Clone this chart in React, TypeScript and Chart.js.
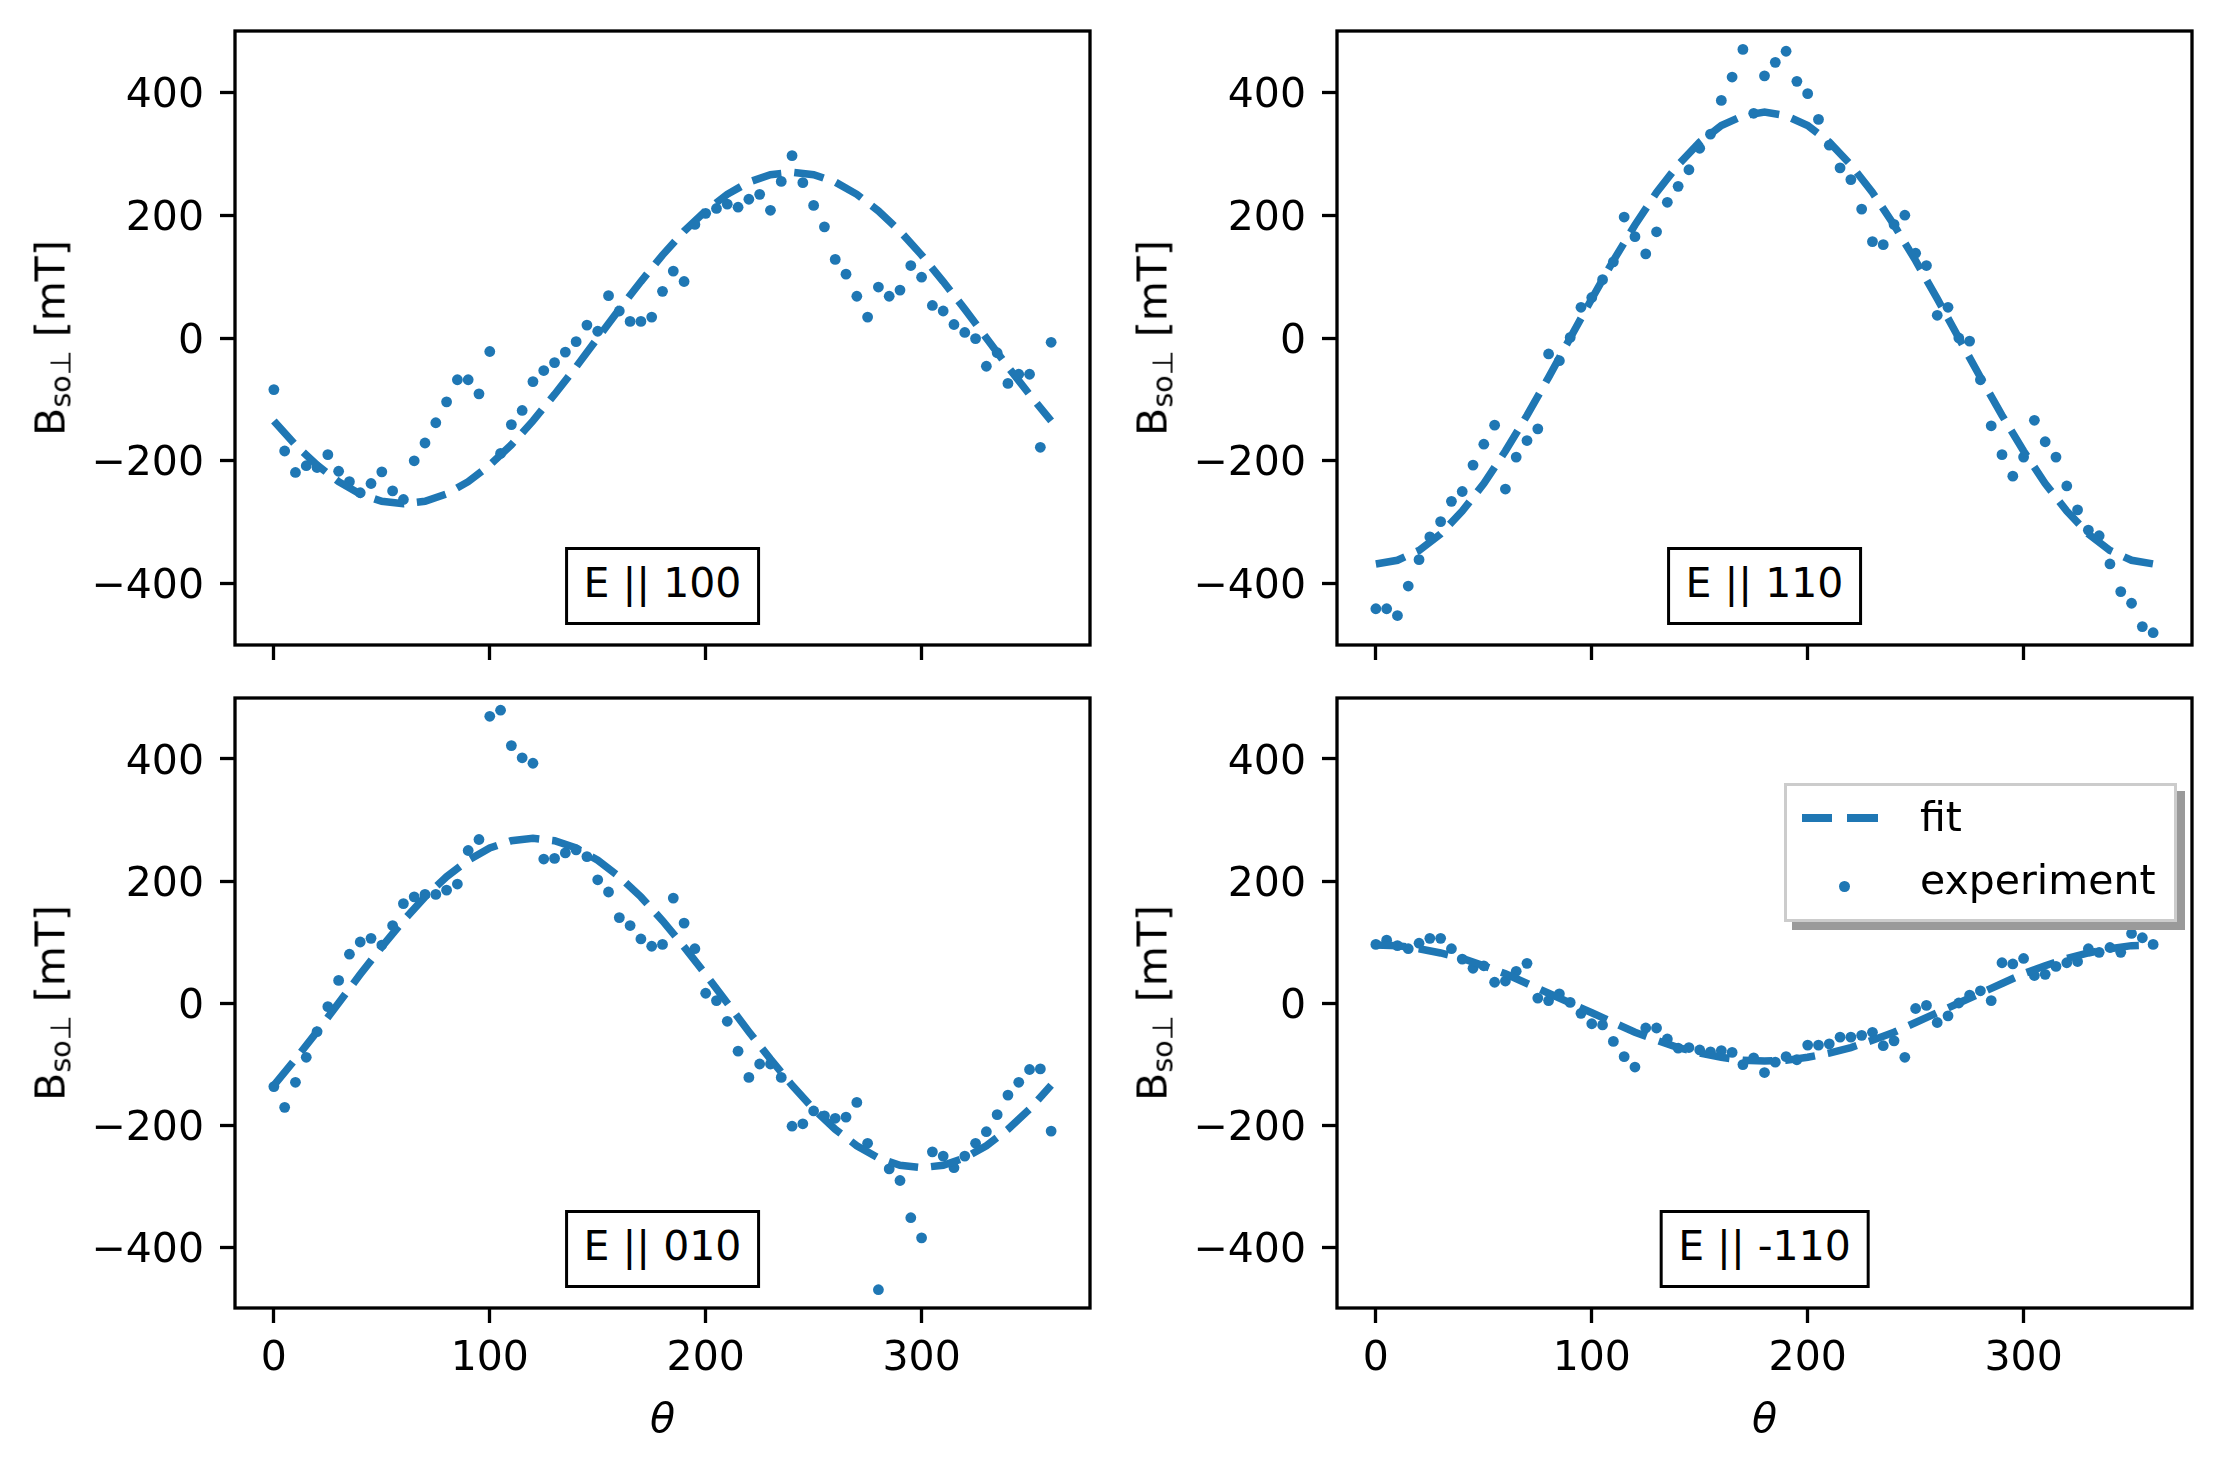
import React, { useEffect, useRef } from 'react';
import { Chart, registerables } from 'chart.js';

Chart.register(...registerables);

// ---------- data ----------
const theta = [
  0, 5, 10, 15, 20, 25, 30, 35, 40, 45, 50, 55, 60, 65, 70, 75, 80, 85, 90, 95,
  100, 105, 110, 115, 120, 125, 130, 135, 140, 145, 150, 155, 160, 165, 170, 175,
  180, 185, 190, 195, 200, 205, 210, 215, 220, 225, 230, 235, 240, 245, 250, 255,
  260, 265, 270, 275, 280, 285, 290, 295, 300, 305, 310, 315, 320, 325, 330, 335,
  340, 345, 350, 355, 360,
];

const fitTheta = [
  0, 10, 20, 30, 40, 50, 60, 70, 80, 90, 100, 110, 120, 130, 140, 150, 160, 170,
  180, 190, 200, 210, 220, 230, 240, 250, 260, 270, 280, 290, 300, 310, 320, 330,
  340, 350, 360,
];

const exp100 = [
  -84, -184, -219, -208, -211, -190, -217, -234, -252, -237,
  -218, -249, -263, -200, -171, -138, -104, -68, -68, -91,
  -22, -188, -141, -118, -71, -53, -40, -23, -6, 21,
  11, 69, 44, 27, 27, 34, 76, 109, 92, 185,
  203, 211, 218, 213, 226, 234, 208, 255, 297, 253,
  216, 181, 128, 104, 68, 34, 83, 68, 78, 118,
  99, 53, 44, 22, 9, -1, -46, -24, -74, -59,
  -59, -178, -7,
];
const fit100 = [
  -135, -174, -207, -234, -254, -266, -270, -266, -254, -234, -207, -174, -135,
  -92, -47, 0, 47, 92, 135, 174, 207, 234, 254, 266, 270, 266, 254, 234, 207,
  174, 135, 92, 47, 0, -47, -92, -135,
];

const exp110 = [
  -441, -441, -452, -404, -361, -324, -299, -266, -250, -207,
  -173, -142, -246, -194, -167, -148, -26, -37, 1, 50,
  66, 95, 124, 197, 165, 137, 173, 221, 247, 274,
  309, 332, 387, 425, 470, 366, 427, 449, 467, 418,
  398, 356, 314, 277, 258, 210, 157, 152, 185, 200,
  138, 118, 37, 50, 0, -5, -68, -143, -190, -225,
  -194, -134, -169, -194, -241, -280, -313, -322, -368, -413,
  -432, -470, -480,
];
const fit110 = [
  -368, -362, -346, -319, -282, -237, -184, -126, -64, 0, 64, 126, 184, 237,
  282, 319, 346, 362, 368, 362, 346, 319, 282, 237, 184, 126, 64, 0, -64, -126,
  -184, -237, -282, -319, -346, -362, -368,
];

const exp010 = [
  -137, -171, -130, -89, -47, -6, 37, 80, 100, 106,
  95, 127, 163, 174, 178, 178, 185, 195, 250, 268,
  470, 480, 422, 402, 393, 236, 237, 246, 251, 240,
  202, 182, 140, 127, 105, 93, 96, 172, 131, 89,
  16, 4, -30, -79, -122, -100, -100, -122, -202, -198,
  -177, -185, -189, -187, -163, -230, -470, -272, -291, -352,
  -385, -244, -251, -270, -251, -230, -211, -183, -151, -130,
  -109, -108, -210,
];
const fit010 = [
  -135, -92, -47, 0, 47, 92, 135, 174, 207, 234, 254, 266, 270, 266, 254, 234,
  207, 174, 135, 92, 47, 0, -47, -92, -135, -174, -207, -234, -254, -266, -270,
  -266, -254, -234, -207, -174, -135,
];

const expM110 = [
  96, 103, 94, 89, 98, 106, 106, 89, 72, 57,
  61, 34, 36, 52, 65, 8, 4, 15, 1, -17,
  -34, -36, -63, -88, -105, -41, -41, -59, -74, -73,
  -77, -80, -78, -81, -101, -90, -114, -97, -88, -93,
  -69, -69, -67, -56, -56, -53, -48, -70, -62, -89,
  -9, -4, -32, -21, 0, 13, 20, 4, 66, 64,
  73, 45, 47, 60, 66, 68, 89, 83, 91, 83,
  114, 107, 96,
];
const fitM110 = [
  95, 94, 89, 82, 73, 61, 48, 32, 16, 0, -16, -32, -48, -61, -73, -82, -89, -94,
  -95, -94, -89, -82, -73, -61, -48, -32, -16, 0, 16, 32, 48, 61, 73, 82, 89, 94,
  95,
];

const xTicks = [0, 100, 200, 300];
const xTickLabels = ['0', '100', '200', '300'];
const yTicks = [-400, -200, 0, 200, 400];
const yTickLabels = ['−400', '−200', '0', '200', '400'];

const panelLabels = ['E || 100', 'E || 110', 'E || 010', 'E || -110'];
const legendLabels = ['fit', 'experiment'];
const xTitle = 'θ';

// ---------- styling ----------
const BLUE = '#1f77b4';
const FAMILY = 'DejaVu Sans';
const FS = 41;
const Y_AXIS_W = 200;

const framePlugin = {
  id: 'frame',
  afterDraw(chart: any) {
    const { ctx, chartArea } = chart;
    const { left, top, right, bottom } = chartArea;
    ctx.save();
    ctx.strokeStyle = '#000';
    ctx.lineWidth = 3.3;
    ctx.strokeRect(left, top, right - left, bottom - top);
    ctx.restore();
  },
};

type PanelProps = {
  left: number;
  top: number;
  w: number;
  h: number;
  pad: { left: number; right: number; top: number; bottom: number };
  xh: number;
  showX: boolean;
  exp: number[];
  fit: number[];
};

function Panel(p: PanelProps) {
  const ref = useRef<HTMLCanvasElement | null>(null);
  useEffect(() => {
    if (!ref.current) return;
    const font = { family: FAMILY, size: FS };
    const chart = new Chart(ref.current, {
      type: 'scatter',
      data: {
        datasets: [
          {
            label: legendLabels[0],
            data: fitTheta.map((t, i) => ({ x: t, y: p.fit[i] })),
            showLine: true,
            borderColor: BLUE,
            backgroundColor: BLUE,
            borderWidth: 7.5,
            borderDash: [30, 13],
            borderCapStyle: 'butt',
            pointRadius: 0,
            tension: 0,
            fill: false,
          } as any,
          {
            label: legendLabels[1],
            data: theta.map((t, i) => ({ x: t, y: p.exp[i] })),
            backgroundColor: BLUE,
            borderWidth: 0,
            pointRadius: 5.4,
          },
        ],
      },
      options: {
        animation: false,
        responsive: false,
        events: [],
        layout: { padding: p.pad, autoPadding: false } as any,
        plugins: {
          legend: { display: false },
          tooltip: { enabled: false },
          title: { display: false },
        },
        scales: {
          x: {
            type: 'linear',
            min: -18,
            max: 378,
            afterBuildTicks: (s: any) => {
              s.ticks = xTicks.map((v) => ({ value: v }));
            },
            afterFit: (s: any) => {
              s.height = p.xh;
              s.paddingLeft = 0;
              s.paddingRight = 0;
              s.paddingTop = 0;
              s.paddingBottom = 0;
            },
            border: { display: false },
            grid: {
              display: true,
              drawOnChartArea: false,
              drawTicks: true,
              tickLength: 15,
              tickWidth: 3.3,
              tickColor: '#000',
            },
            ticks: {
              display: p.showX,
              font,
              color: '#000',
              padding: 12,
              maxRotation: 0,
              autoSkip: false,
              callback: (_v: any, i: number) => xTickLabels[i],
            },
          },
          y: {
            type: 'linear',
            min: -500,
            max: 500,
            afterBuildTicks: (s: any) => {
              s.ticks = yTicks.map((v) => ({ value: v }));
            },
            afterFit: (s: any) => {
              s.width = Y_AXIS_W;
              s.paddingLeft = 0;
              s.paddingRight = 0;
              s.paddingTop = 0;
              s.paddingBottom = 0;
            },
            border: { display: false },
            grid: {
              display: true,
              drawOnChartArea: false,
              drawTicks: true,
              tickLength: 15,
              tickWidth: 3.3,
              tickColor: '#000',
            },
            ticks: {
              font,
              color: '#000',
              padding: 16,
              labelOffset: 4,
              autoSkip: false,
              callback: (_v: any, i: number) => yTickLabels[i],
            },
          },
        },
      } as any,
      plugins: [framePlugin],
    });
    return () => chart.destroy();
  }, []);
  return (
    <canvas
      ref={ref}
      width={p.w}
      height={p.h}
      style={{ position: 'absolute', left: p.left, top: p.top, width: p.w, height: p.h }}
    />
  );
}

const textBase: React.CSSProperties = {
  position: 'absolute',
  fontFamily: '"DejaVu Sans", sans-serif',
  fontSize: FS,
  lineHeight: 1,
  color: '#000',
  whiteSpace: 'nowrap',
};

function YLabel({ cx, cy }: { cx: number; cy: number }) {
  return (
    <div
      style={{
        ...textBase,
        left: cx,
        top: cy,
        transform: 'translate(-50%, -50%) rotate(-90deg)',
      }}
    >
      B<span style={{ fontSize: '0.7em', position: 'relative', top: '0.22em' }}>so⊥</span> [mT]
    </div>
  );
}

function XLabel({ cx, cy }: { cx: number; cy: number }) {
  return (
    <div
      style={{
        ...textBase,
        left: cx,
        top: cy,
        fontStyle: 'italic',
        transform: 'translate(-50%, -50%)',
      }}
    >
      {xTitle}
    </div>
  );
}

function EBox({ cx, top, text }: { cx: number; top: number; text: string }) {
  return (
    <div
      style={{
        ...textBase,
        left: cx,
        top,
        height: 78,
        boxSizing: 'border-box',
        transform: 'translateX(-50%)',
        border: '3px solid #000',
        background: '#fff',
        padding: '0 16px 5px 16px',
        display: 'flex',
        alignItems: 'center',
      }}
    >
      {text}
    </div>
  );
}

function Legend() {
  return (
    <div
      style={{
        position: 'absolute',
        left: 1784,
        top: 783,
        width: 393,
        height: 139,
        boxSizing: 'border-box',
        border: '3px solid #cccccc',
        background: '#fff',
        boxShadow: '8px 8px 0 #9a9a9a',
      }}
    >
      <div style={{ position: 'absolute', left: 15, top: 28, width: 30, height: 8, background: BLUE }} />
      <div style={{ position: 'absolute', left: 60, top: 28, width: 31, height: 8, background: BLUE }} />
      <div
        style={{
          position: 'absolute',
          left: 52,
          top: 95,
          width: 10.8,
          height: 10.8,
          borderRadius: '50%',
          background: BLUE,
        }}
      />
      <div style={{ ...textBase, left: 133, top: 11 }}>{legendLabels[0]}</div>
      <div style={{ ...textBase, left: 133, top: 74 }}>{legendLabels[1]}</div>
    </div>
  );
}

export default function App() {
  useEffect(() => {
    document.body.style.margin = '0';
  }, []);
  const panels: PanelProps[] = [
    { left: 0, top: 0, w: 1110, h: 672, pad: { left: 35, right: 20, top: 31, bottom: 7 }, xh: 20, showX: false, exp: exp100, fit: fit100 },
    { left: 1110, top: 0, w: 1110, h: 672, pad: { left: 27, right: 28, top: 31, bottom: 7 }, xh: 20, showX: false, exp: exp110, fit: fit110 },
    { left: 0, top: 672, w: 1110, h: 798, pad: { left: 35, right: 20, top: 26, bottom: 62 }, xh: 100, showX: true, exp: exp010, fit: fit010 },
    { left: 1110, top: 672, w: 1110, h: 798, pad: { left: 27, right: 28, top: 26, bottom: 62 }, xh: 100, showX: true, exp: expM110, fit: fitM110 },
  ];
  return (
    <div
      style={{
        position: 'absolute',
        left: 0,
        top: 0,
        width: 2220,
        height: 1470,
        background: '#fff',
        overflow: 'hidden',
      }}
    >
      {panels.map((p, i) => (
        <Panel key={i} {...p} />
      ))}
      <YLabel cx={51} cy={338} />
      <YLabel cx={1153} cy={338} />
      <YLabel cx={51} cy={1003} />
      <YLabel cx={1153} cy={1003} />
      <XLabel cx={662.5} cy={1418} />
      <XLabel cx={1764.5} cy={1418} />
      <EBox cx={662.5} top={547} text={panelLabels[0]} />
      <EBox cx={1764.5} top={547} text={panelLabels[1]} />
      <EBox cx={662.5} top={1210} text={panelLabels[2]} />
      <EBox cx={1764.5} top={1210} text={panelLabels[3]} />
      <Legend />
    </div>
  );
}
